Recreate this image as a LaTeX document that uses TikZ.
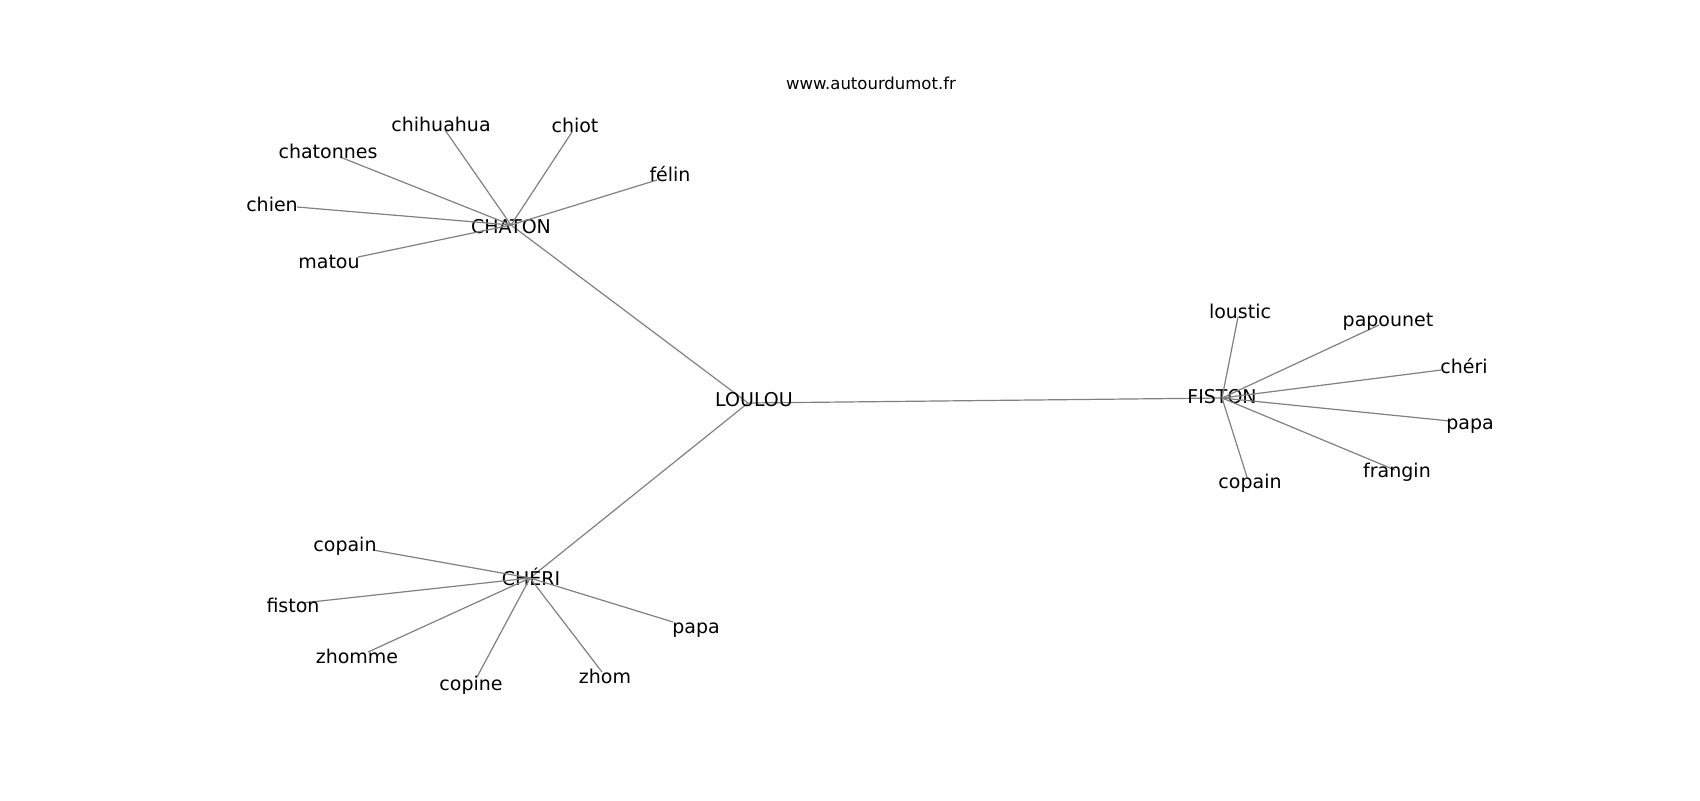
\documentclass[tikz,border=0pt]{standalone}
\usepackage{fontspec}
\setmainfont{DejaVu Sans}
\begin{document}
\begin{tikzpicture}[x=0.5pt, y=-0.5pt]
  \tikzstyle{every node}=[inner sep=0pt, font=\fontsize{9.5}{11}\selectfont]
  \tikzstyle{edge}=[draw=black!50, line width=0.6pt]
  \useasboundingbox (0,0) rectangle (1700,800);
  \node[font=\fontsize{8.25}{10}\selectfont] (site) at (871,83) {www.autourdumot.fr};
  % centres
  \coordinate (loulou) at (748,403);
  \coordinate (chaton) at (511,225);
  \coordinate (fiston) at (1222,398);
  \coordinate (cheri) at (530,578);
  \draw[edge] (loulou) -- (chaton);
  \draw[edge] (loulou) -- (fiston);
  \draw[edge] (loulou) -- (cheri);
  \node (loulou-l) at (754,400) {LOULOU};
  \node (chaton-l) at (511,227) {CHATON};
  \node (fiston-l) at (1222,397) {FISTON};
  \node (cheri-l) at (531,577) {CHÉRI};
  % CHATON
  \foreach \px/\py/\lx/\ly/\word [count=\i] in {445/130/441/124/chihuahua,
      572/132/575/125/chiot, 340/157/328/151/chatonnes, 657/180/670/174/félin,
      297/207/272/204/chien, 358/257/329/262/matou}{
    \coordinate (ch-\i) at (\px,\py);
    \draw[edge] (chaton) -- (ch-\i);
    \node (chl-\i) at (\lx,\ly) {\word};
  }
  % FISTON
  \foreach \px/\py/\lx/\ly/\word [count=\i] in {1238/317/1240/311/loustic,
      1379/325/1388/322/papounet, 1441/370/1464/366/chéri, 1450/421/1470/426/papa,
      1395/470/1397/472/frangin, 1247/477/1250/483/copain}{
    \coordinate (fi-\i) at (\px,\py);
    \draw[edge] (fiston) -- (fi-\i);
    \node (fil-\i) at (\lx,\ly) {\word};
  }
  % CHERI
  \foreach \px/\py/\lx/\ly/\word [count=\i] in {373/550/345/546/copain,
      302/603/293/605/fiston, 368/652/357/656/zhomme, 477/677/471/685/copine,
      602/672/605/676/zhom, 673/622/696/630/papa}{
    \coordinate (cr-\i) at (\px,\py);
    \draw[edge] (cheri) -- (cr-\i);
    \node (crl-\i) at (\lx,\ly) {\word};
  }
\end{tikzpicture}
\end{document}
